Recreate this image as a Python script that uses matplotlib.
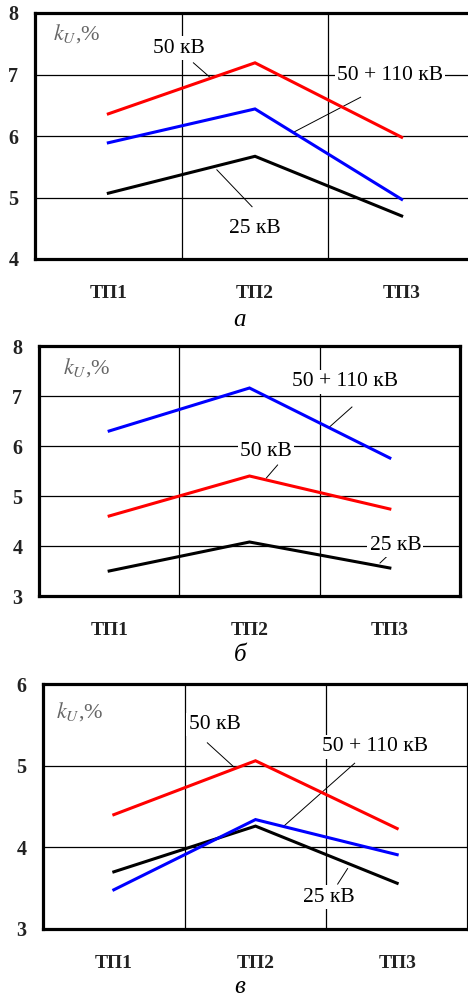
import matplotlib.pyplot as plt

plt.rcParams["font.family"] = ["Liberation Serif", "DejaVu Serif"]
plt.rcParams["mathtext.fontset"] = "stix"

CATS = ["ТП1", "ТП2", "ТП3"]

# panel а
A_50 = [6.36, 7.19, 5.98]
A_50_110 = [5.89, 6.44, 4.97]
A_25 = [5.07, 5.67, 4.70]
# panel б
B_50 = [4.60, 5.40, 4.74]
B_50_110 = [6.30, 7.16, 5.76]
B_25 = [3.50, 4.08, 3.56]
# panel в
C_50 = [4.40, 5.06, 4.23]
C_50_110 = [3.48, 4.34, 3.91]
C_25 = [3.70, 4.26, 3.56]

RED, BLUE = "#ff0000", "#0000ff"
X = [1, 2, 3]

fig = plt.figure(figsize=(4.68, 10), dpi=100)


def panel(rect, ylim, series, notes, letter, letter_y):
    ax = fig.add_axes(rect)
    ax.set_xlim(0.5, 3.5)
    ax.set_ylim(*ylim)
    for vals, col in series:
        ax.plot(X, vals, color=col, lw=2.2, zorder=3, solid_joinstyle="miter")
    ax.set_xticks(X)
    ax.set_xticklabels(CATS, fontsize=14, fontweight="bold", color="#222")
    ax.set_xticks([1.5, 2.5], minor=True)
    ticks = range(ylim[0], ylim[1] + 1)
    ax.set_yticks(ticks)
    ax.set_yticklabels([str(v) for v in ticks], fontsize=14.5,
                       fontweight="bold", color="#222")
    ax.tick_params(which="both", length=0)
    ax.tick_params(axis="y", pad=12)
    ax.tick_params(axis="x", pad=19)
    ax.set_axisbelow(True)
    ax.grid(axis="y", which="major", color="black", lw=0.9)
    ax.grid(axis="x", which="minor", color="black", lw=0.9)
    for s in ax.spines.values():
        s.set_linewidth(2.3)
    for txt, tx, ty, x0, y0, x1, y1 in notes:
        ax.plot([x0, x1], [y0, y1], color="black", lw=0.7, zorder=2.5)
        ax.text(tx, ty, txt, ha="center", va="center", fontsize=15.5, zorder=4,
                bbox=dict(facecolor="white", edgecolor="none", pad=1.5))
    fig.text(240 / 468, 1 - letter_y / 1000, letter, ha="center", va="center",
             fontsize=18, style="italic")
    return ax


ax_a = panel([35 / 468, 0.741, 440 / 468, 0.246], (4, 8),
             [(A_50, RED), (A_50_110, BLUE), (A_25, "black")],
             [("50 кВ", 1.48, 7.43, 1.58, 7.19, 1.69, 6.96),
              ("50 + 110 кВ", 2.92, 6.99, 2.72, 6.63, 2.27, 6.07),
              ("25 кВ", 2.0, 4.50, 1.74, 5.45, 1.98, 4.85)],
             "а", 320)
ax_a.text(0.62, 7.67, r"$k_U$,%", fontsize=16, color="#666", va="center")

ax_b = panel([39 / 468, 0.404, 421 / 468, 0.250], (3, 8),
             [(B_50_110, BLUE), (B_50, RED), (B_25, "black")],
             [("50 + 110 кВ", 2.68, 7.28, 2.73, 6.78, 2.57, 6.38),
              ("50 кВ", 2.12, 5.88, 2.20, 5.62, 2.12, 5.36),
              ("25 кВ", 3.04, 4.02, 2.99, 3.82, 2.93, 3.66)],
             "б", 655)
ax_b.text(0.67, 7.56, r"$k_U$,%", fontsize=16, color="#666", va="center")

ax_c = panel([43 / 468, 0.071, 425 / 468, 0.245], (3, 6),
             [(C_50, RED), (C_25, "black"), (C_50_110, BLUE)],
             [("50 кВ", 1.71, 5.50, 1.66, 5.28, 1.85, 4.98),
              ("50 + 110 кВ", 2.84, 5.23, 2.70, 5.03, 2.20, 4.26),
              ("25 кВ", 2.52, 3.39, 2.58, 3.55, 2.65, 3.74)],
             "в", 987)
ax_c.text(0.59, 5.66, r"$k_U$,%", fontsize=16, color="#666", va="center")

fig.savefig("out.png", dpi=100)
